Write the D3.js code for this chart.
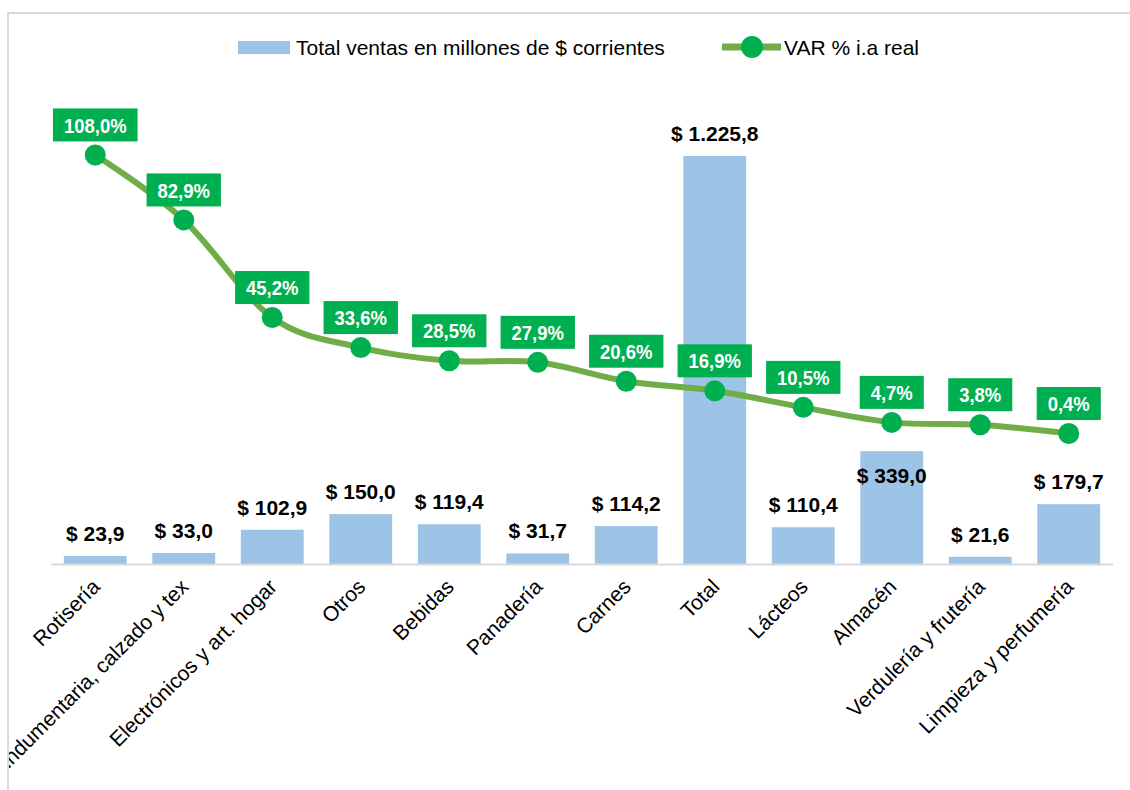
<!DOCTYPE html>
<html>
<head>
<meta charset="utf-8">
<script src="https://cdn.jsdelivr.net/npm/d3@7"></script>
<style>
  body { margin: 0; background: #fff; }
  svg { font-family: Arial, "Liberation Sans", sans-serif; }
</style>
</head>
<body>
<svg id="chart"></svg>
<script>
// categories and values
const categories = ["Rotisería", "Indumentaria, calzado y tex", "Electrónicos y art. hogar", "Otros",
  "Bebidas", "Panadería", "Carnes", "Total", "Lácteos", "Almacén", "Verdulería y frutería",
  "Limpieza y perfumería"];
const ventas = [23.9, 33.0, 102.9, 150.0, 119.4, 31.7, 114.2, 1225.8, 110.4, 339.0, 21.6, 179.7];
const varReal = [108.0, 82.9, 45.2, 33.6, 28.5, 27.9, 20.6, 16.9, 10.5, 4.7, 3.8, 0.4];
const seriesNames = ["Total ventas en millones de $ corrientes", "VAR % i.a real"];

const W = 1130, H = 790;
const margin = { top: 98, right: 17, bottom: 226, left: 51 };
const width = W - margin.left - margin.right;
const height = H - margin.top - margin.bottom;

const barColor = "#9dc3e6", lineColor = "#70ad47", dotColor = "#00b050";

const fmt1 = v => v.toFixed(1).replace(".", ",");
const fmtMoney = v => "$ " + d3.format(",.1f")(v).replace(/,/g, "#").replace(".", ",").replace(/#/g, ".");

const svg = d3.select("#chart").attr("width", W).attr("height", H);

// clip for the chart area (labels get cut at the left border)
svg.append("clipPath").attr("id", "area")
  .append("rect").attr("x", 9).attr("y", 14).attr("width", W).attr("height", H);

// chart area border (cut off at right and bottom)
svg.append("rect")
  .attr("x", 8).attr("y", 13)
  .attr("width", W + 20).attr("height", H + 20)
  .attr("fill", "none").attr("stroke", "#d9d9d9").attr("stroke-width", 2);

const chart = svg.append("g").attr("transform", `translate(${margin.left},${margin.top})`);

const x = d3.scaleBand().domain(categories).range([0, width]).paddingInner(0.29).paddingOuter(0.145);
const y = d3.scaleLinear().domain([0, 1400]).range([height, 0]);
const y2 = d3.scaleLinear().domain([-50, 130]).range([height, 0]);

// bars
chart.selectAll(".bar").data(categories).join("rect")
  .attr("class", "bar")
  .attr("x", d => x(d))
  .attr("y", (d, i) => y(ventas[i]))
  .attr("width", x.bandwidth())
  .attr("height", (d, i) => height - y(ventas[i]))
  .attr("fill", barColor);

// x axis
const xAxis = d3.axisBottom(x).tickSize(0).tickFormat("");
const xAxisG = chart.append("g").attr("transform", `translate(0,${height})`).call(xAxis);
xAxisG.select(".domain").attr("stroke", "#d9d9d9").attr("stroke-width", 2);

svg.append("g").attr("clip-path", "url(#area)")
  .append("g").attr("transform", `translate(${margin.left},${margin.top})`)
  .selectAll(".xlabel").data(categories).join("text")
  .attr("class", "xlabel")
  .attr("transform", d => `translate(${x(d) + x.bandwidth() / 2 + 6},${height + 24}) rotate(-45)`)
  .attr("text-anchor", "end")
  .attr("font-size", 21)
  .attr("fill", "#000")
  .text(d => d);

// line
const cx = d => x(d) + x.bandwidth() / 2;
const line = d3.line()
  .x((d, i) => cx(categories[i]))
  .y(d => y2(d))
  .curve(d3.curveCardinal.tension(0));

chart.append("path")
  .datum(varReal)
  .attr("d", line)
  .attr("fill", "none")
  .attr("stroke", lineColor)
  .attr("stroke-width", 6);

chart.selectAll(".dot").data(varReal).join("circle")
  .attr("class", "dot")
  .attr("cx", (d, i) => cx(categories[i]))
  .attr("cy", d => y2(d))
  .attr("r", 10.5)
  .attr("fill", dotColor);

// bar value labels (inside the bar when they would hit a line marker)
chart.selectAll(".barlabel").data(ventas).join("text")
  .attr("class", "barlabel")
  .attr("x", (d, i) => cx(categories[i]))
  .attr("y", (d, i) => {
    const top = y(d);
    const m = y2(varReal[i]);
    const hit = top - 30 < m + 12 && top - 12 > m - 12;
    return hit ? top + 32 : top - 15;
  })
  .attr("text-anchor", "middle")
  .attr("font-size", 21)
  .attr("font-weight", "bold")
  .attr("fill", "#000")
  .text(d => fmtMoney(d));

// line value labels in green boxes
const lab = chart.selectAll(".varlabel").data(varReal).join("g")
  .attr("class", "varlabel")
  .attr("transform", (d, i) => `translate(${cx(categories[i])},${y2(d) - 30})`);
lab.append("rect").attr("fill", dotColor);
const labText = lab.append("text")
  .attr("text-anchor", "middle")
  .attr("dy", "0.36em")
  .attr("font-size", 21)
  .attr("font-weight", "bold")
  .attr("fill", "#fff")
  .attr("transform", "scale(0.88,1)")
  .text(d => fmt1(d) + "%");
labText.each(function () {
  const w = this.getComputedTextLength() * 0.88 + 22;
  d3.select(this.parentNode).select("rect")
    .attr("x", -w / 2).attr("y", -16.5).attr("width", w).attr("height", 33);
});

// legend
const legend = svg.append("g").attr("font-size", 21);
legend.append("rect").attr("x", 238).attr("y", 41).attr("width", 52).attr("height", 13).attr("fill", barColor);
legend.append("text").attr("x", 296).attr("y", 47).attr("dy", "0.36em").text(seriesNames[0]);
legend.append("line").attr("x1", 722).attr("x2", 781).attr("y1", 47).attr("y2", 47)
  .attr("stroke", lineColor).attr("stroke-width", 7);
legend.append("circle").attr("cx", 752).attr("cy", 47).attr("r", 11).attr("fill", dotColor);
legend.append("text").attr("x", 784).attr("y", 47).attr("dy", "0.36em").text(seriesNames[1]);
</script>
</body>
</html>
